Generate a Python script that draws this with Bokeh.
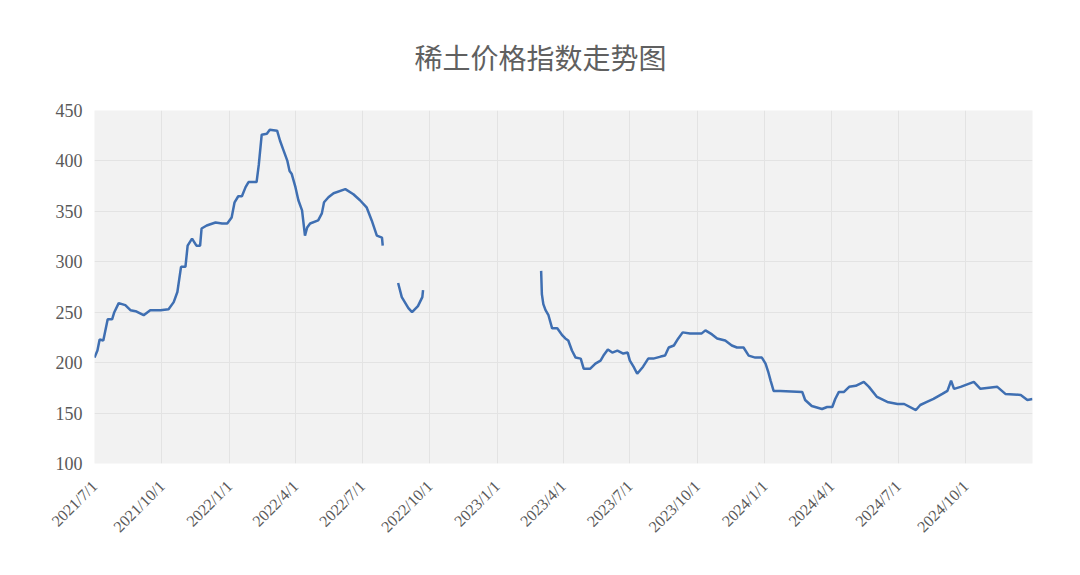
import numpy as np
import pandas as pd
from bokeh.plotting import figure
from bokeh.models import Range1d, FixedTicker, ColumnDataSource
from bokeh.embed import file_html
from bokeh.resources import INLINE

title_text = "稀土价格指数走势图"

tick_dates = ["2021-07-01", "2021-10-01", "2022-01-01", "2022-04-01", "2022-07-01",
              "2022-10-01", "2023-01-01", "2023-04-01", "2023-07-01", "2023-10-01",
              "2024-01-01", "2024-04-01", "2024-07-01", "2024-10-01"]
tick_labels = ["2021/7/1", "2021/10/1", "2022/1/1", "2022/4/1", "2022/7/1",
               "2022/10/1", "2023/1/1", "2023/4/1", "2023/7/1", "2023/10/1",
               "2024/1/1", "2024/4/1", "2024/7/1", "2024/10/1"]
y_ticks = [100, 150, 200, 250, 300, 350, 400, 450]

dates = [
    "2021-07-01", "2021-07-05", "2021-07-08", "2021-07-13", "2021-07-19", "2021-07-25",
    "2021-07-28", "2021-08-03", "2021-08-12", "2021-08-19", "2021-08-26", "2021-09-06",
    "2021-09-15", "2021-09-29", "2021-10-10", "2021-10-17", "2021-10-22", "2021-10-27",
    "2021-11-02", "2021-11-05", "2021-11-11", "2021-11-17", "2021-11-22", "2021-11-24",
    "2021-12-01", "2021-12-13", "2021-12-22", "2021-12-29", "2022-01-04", "2022-01-08",
    "2022-01-13", "2022-01-18", "2022-01-23", "2022-01-27", "2022-02-07", "2022-02-10",
    "2022-02-14", "2022-02-21", "2022-02-25", "2022-03-07", "2022-03-11", "2022-03-16",
    "2022-03-21", "2022-03-24", "2022-03-27", "2022-04-01", "2022-04-05", "2022-04-10",
    "2022-04-14", "2022-04-17", "2022-04-21", "2022-05-02", "2022-05-07", "2022-05-10",
    "2022-05-16", "2022-05-23", "2022-06-08", "2022-06-19", "2022-06-28", "2022-07-07",
    "2022-07-14", "2022-07-21", "2022-07-28", "2022-07-29",
    "2022-08-10",
    "2022-08-19", "2022-08-24", "2022-09-02", "2022-09-07", "2022-09-15", "2022-09-21",
    "2022-09-22",
    "2022-12-01",
    "2023-03-02", "2023-03-03", "2023-03-05", "2023-03-08", "2023-03-12", "2023-03-17",
    "2023-03-24", "2023-03-31", "2023-04-04", "2023-04-08", "2023-04-13", "2023-04-18",
    "2023-04-25", "2023-04-29", "2023-05-08", "2023-05-15", "2023-05-22", "2023-05-26",
    "2023-06-01", "2023-06-07", "2023-06-14", "2023-06-22", "2023-06-28", "2023-07-01",
    "2023-07-06", "2023-07-11", "2023-07-19", "2023-07-26", "2023-08-02", "2023-08-12",
    "2023-08-18", "2023-08-23", "2023-08-30", "2023-09-05", "2023-09-11", "2023-09-21",
    "2023-10-07", "2023-10-12", "2023-10-21", "2023-10-28", "2023-11-08", "2023-11-17",
    "2023-11-24", "2023-12-03", "2023-12-10", "2023-12-19", "2023-12-28", "2024-01-02",
    "2024-01-06", "2024-01-09", "2024-01-13", "2024-01-22", "2024-02-21", "2024-02-25",
    "2024-03-05", "2024-03-19", "2024-03-26", "2024-04-02", "2024-04-06", "2024-04-11",
    "2024-04-18", "2024-04-25", "2024-05-04", "2024-05-15", "2024-05-22", "2024-06-02",
    "2024-06-16", "2024-06-30", "2024-07-09", "2024-07-25", "2024-07-31", "2024-08-09",
    "2024-08-18", "2024-08-30", "2024-09-06", "2024-09-11", "2024-09-15", "2024-09-24",
    "2024-10-12", "2024-10-21", "2024-11-13", "2024-11-24", "2024-12-15", "2024-12-24",
    "2024-12-31",
]
index_values = [
    205, 212, 223, 222, 243, 243,
    250, 259, 257, 252, 251, 247,
    252, 252, 253, 260, 270, 295,
    295, 316, 323, 316, 316, 333,
    336, 339, 338, 338, 344, 359,
    365, 365, 374, 379, 379, 396,
    426, 427, 431, 430, 420, 410,
    400, 390, 387, 374, 361, 351,
    326, 334, 338, 341, 348, 359,
    364, 368, 372, 367, 361, 354,
    341, 326, 324, 316,
    None,
    279, 265, 254, 250, 256, 265,
    272,
    None,
    291, 268, 258, 252, 247, 234,
    234, 227, 224, 222, 212, 205,
    204, 194, 194, 199, 202, 207,
    213, 210, 212, 209, 210, 202,
    196, 189, 196, 204, 204, 206,
    207, 215, 217, 224, 230, 229,
    229, 232, 228, 224, 222, 217,
    215, 215, 207, 205, 205, 199,
    190, 182, 172, 172, 171, 163,
    157, 154, 156, 156, 164, 171,
    171, 176, 177, 181, 176, 166,
    161, 159, 159, 153, 158, 161,
    164, 169, 172, 182, 174, 176,
    181, 174, 176, 169, 168, 163,
    164,
]

x = pd.to_datetime(dates)
y = np.array([np.nan if v is None else v for v in index_values], dtype=float)
src = ColumnDataSource(dict(x=x, y=y))

p = figure(width=1072, height=567, x_axis_type="datetime",
           output_backend="svg", toolbar_location=None,
           min_border_left=94, min_border_right=40,
           min_border_top=110, min_border_bottom=104)
p.x_range = Range1d(pd.Timestamp("2021-07-01"), pd.Timestamp("2024-12-31"))
p.y_range = Range1d(100, 450)
p.background_fill_color = "#f2f2f2"
p.border_fill_color = "white"
p.outline_line_color = None

p.title.text = title_text
p.title.align = "left"
p.title.offset = 320
p.title.standoff = 67
p.title.text_font = "Noto Sans CJK SC"
p.title.text_font_size = "28px"
p.title.text_font_style = "normal"
p.title.text_color = "#606060"

tick_ms = [int(pd.Timestamp(d).value // 10**6) for d in tick_dates]
p.xaxis.ticker = FixedTicker(ticks=tick_ms)
p.xaxis.major_label_overrides = {t: l for t, l in zip(tick_ms, tick_labels)}
p.xaxis.major_label_orientation = np.pi / 4
p.yaxis.ticker = FixedTicker(ticks=y_ticks)

for ax in (p.xaxis, p.yaxis):
    ax.axis_line_color = None
    ax.major_tick_line_color = None
    ax.minor_tick_line_color = None
    ax.major_label_text_font = "Liberation Serif"
    ax.major_label_text_color = "#595959"
p.xaxis.major_label_text_font_size = "16px"
p.xaxis.major_label_standoff = 14
p.yaxis.major_label_text_font_size = "18px"
p.yaxis.major_label_standoff = 6

p.xgrid.grid_line_color = "#e3e3e3"
p.ygrid.grid_line_color = "#e3e3e3"
p.xgrid.grid_line_width = 1
p.ygrid.grid_line_width = 1

p.line("x", "y", source=src, line_color="#3f6fb2", line_width=2.5)

open("out.html", "w").write(file_html(p, INLINE))
